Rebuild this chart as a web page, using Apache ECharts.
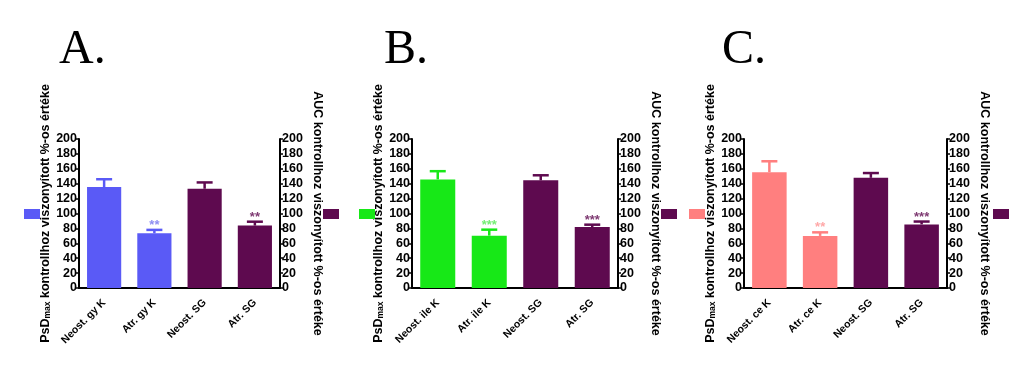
<!DOCTYPE html>
<html>
<head>
<meta charset="utf-8">
<script src="https://cdn.jsdelivr.net/npm/echarts@6/dist/echarts.min.js"></script>
<style>html,body{margin:0;padding:0;background:#fff;}#c{width:1024px;height:385px;}</style>
</head>
<body>
<div id="c"></div>
<script>
// ---- data ----
const panelTitles = ['A.', 'B.', 'C.'];
const catsA = ['Neost. gy K', 'Atr. gy K', 'Neost. SG', 'Atr. SG'];
const catsB = ['Neost. ile K', 'Atr. ile K', 'Neost. SG', 'Atr. SG'];
const catsC = ['Neost. ce K', 'Atr. ce K', 'Neost. SG', 'Atr. SG'];
const psdA = [135.5, 73.5];  const psdSemA = [10.5, 4.5];
const aucA = [133.2, 83.8];  const aucSemA = [8.5, 5.2];
const psdB = [145.8, 70.3];  const psdSemB = [11, 8];
const aucB = [144.5, 81.8];  const aucSemB = [6.8, 3.2];
const psdC = [155.5, 69.9];  const psdSemC = [14.6, 4.8];
const aucC = [147.9, 85.4];  const aucSemC = [6.4, 3.8];
const starsA = ['', '**', '', '**'];
const starsB = ['', '***', '', '***'];
const starsC = ['', '**', '', '***'];
const yTicks = [0, 20, 40, 60, 80, 100, 120, 140, 160, 180, 200];

const leftColors = ['#5A5AF6', '#17E817', '#FF7F7F'];
const leftStarColors = ['#8E8EF2', '#74EE74', '#FFA8A8'];
const purple = '#5E0A4F';
const purpleStar = '#7E3A72';

const cats = [catsA, catsB, catsC];
const psd = [psdA, psdB, psdC], psdSem = [psdSemA, psdSemB, psdSemC];
const auc = [aucA, aucB, aucC], aucSem = [aucSemA, aucSemB, aucSemC];
const stars = [starsA, starsB, starsC];

const gridLeft = [79, 412, 744];
const gridWidth = [201, 206, 203];
const titleLeft = [59, 384, 722];
const legLeftL = [24, 359, 689];
const legLeftR = [323, 661, 993];

const sansN = '"Liberation Sans Narrow", "Liberation Sans", Arial, sans-serif';
const sansW = '"Liberation Sans", Arial, sans-serif';
const chart = echarts.init(document.getElementById('c'));

function errRender(color, starColor) {
  return function (params, api) {
    const x = api.value(0), mean = api.value(1), sem = api.value(2);
    const st = api.value(3);
    const p0 = api.coord([x, mean]);
    const p1 = api.coord([x, mean + sem]);
    const cw = 8;
    const children = [
      {type: 'line', shape: {x1: p0[0], y1: p0[1], x2: p1[0], y2: p1[1]}, style: {stroke: color, lineWidth: 2.5}},
      {type: 'line', shape: {x1: p1[0] - cw, y1: p1[1], x2: p1[0] + cw, y2: p1[1]}, style: {stroke: color, lineWidth: 2.5}}
    ];
    if (st) {
      children.push({type: 'text', x: p1[0], y: p1[1] + 2, style: {text: st, fill: starColor, font: 'bold 13px ' + sansW, align: 'center', verticalAlign: 'bottom'}});
    }
    return {type: 'group', children: children};
  };
}

const grids = [], xAxes = [], yAxes = [], series = [], titles = [], legends = [];
for (let i = 0; i < 3; i++) {
  grids.push({left: gridLeft[i], top: 139, width: gridWidth[i], height: 149});
  titles.push({text: panelTitles[i], left: titleLeft[i], top: 26, padding: 0,
    textStyle: {fontFamily: 'Liberation Serif, Times New Roman, serif', fontSize: 48, fontWeight: 'normal', color: '#000'}});
  xAxes.push({type: 'category', gridIndex: i, data: cats[i],
    axisLine: {lineStyle: {color: '#000', width: 2}},
    axisTick: {alignWithLabel: true, length: 4, lineStyle: {color: '#000', width: 1.5}},
    axisLabel: {rotate: 45, interval: 0, margin: 13, color: '#000', fontFamily: sansW, fontWeight: 'bold', fontSize: 10.5}});
  const yBase = {type: 'value', gridIndex: i, min: 0, max: 200, interval: 20, splitLine: {show: false},
    axisLine: {show: true, lineStyle: {color: '#000', width: 2}},
    axisTick: {show: true, length: 3, lineStyle: {color: '#000', width: 1.5}},
    axisLabel: {color: '#000', fontFamily: sansN, fontWeight: 'bold', fontSize: 12.5, margin: 2,
      formatter: v => yTicks.indexOf(v) >= 0 ? String(v) : ''},
    nameLocation: 'middle'};
  yAxes.push(Object.assign({}, yBase, {position: 'left',
    name: '{b|PsD}{s|max}{b| kontrollhoz viszonyított %-os értéke}',
    nameRotate: 90, nameGap: 24,
    nameTextStyle: {rich: {b: {fontFamily: sansW, fontWeight: 'bold', fontSize: 12.5, color: '#000'},
                           s: {fontFamily: sansW, fontWeight: 'bold', fontSize: 8.5, color: '#000', verticalAlign: 'bottom', padding: [4, 0, 0, 0]}}}}));
  yAxes.push(Object.assign({}, yBase, {position: 'right',
    name: 'AUC kontrollhoz viszonyított %-os értéke',
    nameRotate: -90, nameGap: 31,
    nameTextStyle: {fontFamily: sansW, fontWeight: 'bold', fontSize: 12.5, color: '#000'}}));

  const nameL = 'PsDmax ' + panelTitles[i];
  const nameR = 'AUC ' + panelTitles[i];
  series.push({name: nameL, type: 'bar', xAxisIndex: i, yAxisIndex: 2 * i,
    barWidth: '68%', barGap: '-100%', itemStyle: {color: leftColors[i]},
    data: [psd[i][0], psd[i][1], '-', '-']});
  series.push({name: nameR, type: 'bar', xAxisIndex: i, yAxisIndex: 2 * i + 1,
    barWidth: '68%', barGap: '-100%', itemStyle: {color: purple},
    data: ['-', '-', auc[i][0], auc[i][1]]});
  series.push({type: 'custom', xAxisIndex: i, yAxisIndex: 2 * i, z: 5,
    renderItem: errRender(leftColors[i], leftStarColors[i]),
    encode: {x: 0, y: 1},
    data: [[0, psd[i][0], psdSem[i][0], stars[i][0]], [1, psd[i][1], psdSem[i][1], stars[i][1]]]});
  series.push({type: 'custom', xAxisIndex: i, yAxisIndex: 2 * i + 1, z: 5,
    renderItem: errRender(purple, purpleStar),
    encode: {x: 0, y: 1},
    data: [[2, auc[i][0], aucSem[i][0], stars[i][2]], [3, auc[i][1], aucSem[i][1], stars[i][3]]]});

  legends.push({data: [nameL], left: legLeftL[i], top: 209, itemWidth: 16, itemHeight: 10, icon: 'rect',
    selectedMode: false, formatter: () => '', padding: 0, itemGap: 0});
  legends.push({data: [nameR], left: legLeftR[i], top: 209, itemWidth: 16, itemHeight: 10, icon: 'rect',
    selectedMode: false, formatter: () => '', padding: 0, itemGap: 0});
}

chart.setOption({
  backgroundColor: '#fff',
  animation: false,
  title: titles,
  legend: legends,
  grid: grids,
  xAxis: xAxes,
  yAxis: yAxes,
  series: series
});
</script>
</body>
</html>
